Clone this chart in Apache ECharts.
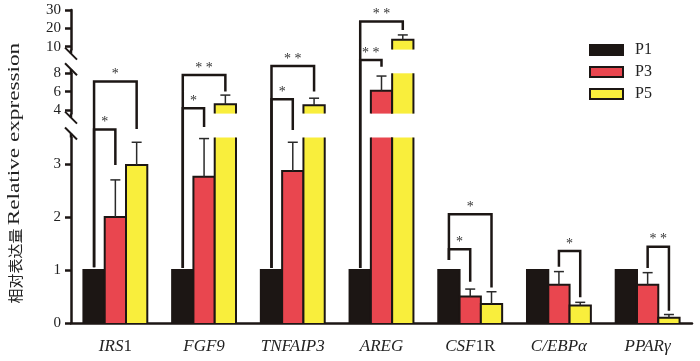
<!DOCTYPE html>
<html>
<head>
<meta charset="utf-8">
<script src="https://cdn.jsdelivr.net/npm/echarts@6.0.0/dist/echarts.min.js"></script>
<style>
html, body { margin: 0; padding: 0; background: #fff; }
#chart { width: 700px; height: 361px; }
</style>
</head>
<body>
<div id="chart"></div>
<script>
// data
var categories = ['IRS1', 'FGF9', 'TNFAIP3', 'AREG', 'CSF1R', 'C/EBPα', 'PPARγ'];
var seriesNames = ['P1', 'P3', 'P5'];
var p1 = [1, 1, 1, 1, 1, 1, 1];
var p3 = [2.0, 2.76, 2.87, 6.1, 0.5, 0.72, 0.72];
var p5 = [2.98, 4.62, 4.5, 13.8, 0.36, 0.33, 0.1];
var p1Err = [0, 0, 0, 0, 0, 0, 0];
var p3Err = [0.7, 0.72, 0.54, 1.6, 0.14, 0.25, 0.23];
var p5Err = [0.43, 1.0, 0.78, 2.6, 0.23, 0.06, 0.06];
// broken y axis: bottom, middle, top pieces
var segMin = [0, 3.6, 8.4];
var segMax = [3.5, 8, 30];
var segTicks = [[0, 1, 2, 3], [4, 6, 8], [10, 20, 30]];
// significance brackets: heights are [axis piece, value]
var brackets = [
    {cat: 0, from: 0, to: 2, top: [1, 7.1], left: [0, 1.05], right: [0, 3.66], label: '*'},
    {cat: 0, from: 0, to: 1, top: [0, 3.65], left: [0, 1.05], right: [0, 2.98], label: '*'},
    {cat: 1, from: 0, to: 2, top: [1, 7.82], left: [0, 1.04], right: [1, 6.0], label: '* *'},
    {cat: 1, from: 0, to: 1, top: [1, 4.19], left: [0, 1.04], right: [0, 3.7], label: '*'},
    {cat: 2, from: 0, to: 2, top: [1, 8.8], left: [0, 1.04], right: [1, 6.0], label: '* *'},
    {cat: 2, from: 0, to: 1, top: [1, 5.17], left: [0, 1.04], right: [0, 3.64], label: '*'},
    {cat: 3, from: 0, to: 2, top: [2, 23.7], left: [0, 1.04], right: [2, 19.1], label: '* *'},
    {cat: 3, from: 0, to: 1, top: [1, 9.45], left: [0, 1.04], right: [1, 8.72], label: '* *'},
    {cat: 4, from: 0, to: 2, top: [0, 2.05], left: [0, 1.19], right: [0, 0.67], label: '*'},
    {cat: 4, from: 0, to: 1, top: [0, 1.39], left: [0, 1.19], right: [0, 0.78], label: '*'},
    {cat: 5, from: 1, to: 2, top: [0, 1.36], left: [0, 1.06], right: [0, 0.485], label: '*'},
    {cat: 6, from: 1, to: 2, top: [0, 1.44], left: [0, 1.04], right: [0, 0.23], label: '* *'}
];

var values = [p1, p3, p5];
var errors = [p1Err, p3Err, p5Err];
var fills = ['#1c1614', '#e9464f', '#f9ee3c'];
var edge = '#1c1614';
var barRatio = 0.24;
var serif = 'Liberation Serif, Times New Roman, serif';

var chart = echarts.init(document.getElementById('chart'));

var gridPos = [
    {left: 71, right: 8, top: 137.5, bottom: 38},
    {left: 71, right: 8, top: 73.3, bottom: 247.4},
    {left: 71, right: 8, top: 10, bottom: 311.4}
];

var upright = {'IRS1': '{i|IRS}{n|1}', 'CSF1R': '{i|CSF}{n|1R}'};

var xAxes = [], yAxes = [], series = [];
gridPos.forEach(function (g, gi) {
    xAxes.push({
        type: 'category',
        gridIndex: gi,
        data: categories,
        show: gi === 0,
        axisLine: {lineStyle: {color: edge, width: 2.5}},
        axisTick: {alignWithLabel: true, length: 6, lineStyle: {color: edge, width: 2.5}},
        axisLabel: {
            interval: 0,
            margin: 15,
            formatter: function (v) { return upright[v] || '{i|' + v + '}'; },
            rich: {
                i: {fontFamily: serif, fontStyle: 'italic', fontSize: 17, color: '#222'},
                n: {fontFamily: serif, fontSize: 17, color: '#222'}
            }
        }
    });
    yAxes.push({
        type: 'value',
        gridIndex: gi,
        min: segMin[gi],
        max: segMax[gi],
        axisLine: {show: true, lineStyle: {color: edge, width: 2.5}},
        axisTick: {show: true, length: 6, customValues: segTicks[gi], lineStyle: {color: edge, width: 2.5}},
        axisLabel: {customValues: segTicks[gi], fontFamily: serif, fontSize: 15, color: '#222', margin: 10},
        splitLine: {show: false}
    });
});

var barItem = function (k) {
    return function (params, api) {
        var cat = api.value(0), v = api.value(1), e = api.value(2);
        var cs = params.coordSys;
        var band = api.size([1, 0])[0];
        var bw = band * barRatio;
        var top = api.coord([cat, v]);
        var cx = top[0] + (k - 1) * bw;
        var base = cs.y + cs.height;
        if (top[1] >= base) return null;
        var clipped = top[1] < cs.y;
        var yt = clipped ? cs.y : top[1];
        var x0 = cx - bw / 2, x1 = cx + bw / 2;
        var line = {stroke: edge, lineWidth: 2, fill: null};
        var kids = [{type: 'rect', shape: {x: x0, y: yt, width: bw, height: base - yt}, style: {fill: fills[k]}}];
        if (clipped) {
            kids.push({type: 'line', shape: {x1: x0, y1: yt, x2: x0, y2: base}, style: line});
            kids.push({type: 'line', shape: {x1: x1, y1: yt, x2: x1, y2: base}, style: line});
        } else {
            kids.push({type: 'polyline', shape: {points: [[x0, base], [x0, yt], [x1, yt], [x1, base]]}, style: line});
            if (e > 0) {
                var ye = api.coord([cat, v + e])[1];
                var es = {stroke: '#2a2a2a', lineWidth: 1.5};
                kids.push({type: 'line', shape: {x1: cx, y1: yt, x2: cx, y2: ye}, style: es});
                kids.push({type: 'line', shape: {x1: cx - 5, y1: ye, x2: cx + 5, y2: ye}, style: es});
            }
        }
        return {type: 'group', children: kids};
    };
};

gridPos.forEach(function (g, gi) {
    seriesNames.forEach(function (name, k) {
        series.push({
            type: 'custom',
            name: name,
            xAxisIndex: gi,
            yAxisIndex: gi,
            itemStyle: {color: fills[k]},
            renderItem: barItem(k),
            encode: {x: 0, y: 1},
            data: categories.map(function (c, i) { return [i, values[k][i], errors[k][i]]; })
        });
    });
});

chart.setOption({
    animation: false,
    grid: gridPos,
    xAxis: xAxes,
    yAxis: yAxes,
    legend: {
        orient: 'vertical',
        left: 589,
        top: 42,
        padding: 0,
        icon: 'rect',
        itemWidth: 33,
        itemHeight: 10,
        itemGap: 6,
        textStyle: {fontFamily: serif, fontSize: 16, color: '#222', padding: [0, 0, 0, 7]},
        data: seriesNames.map(function (n, k) {
            return {name: n, itemStyle: {color: fills[k], borderColor: edge, borderWidth: 2}};
        })
    },
    series: series
});

// brackets, axis breaks and axis title drawn on top
var band = chart.convertToPixel({xAxisIndex: 0}, 1) - chart.convertToPixel({xAxisIndex: 0}, 0);
var axisX = chart.convertToPixel({xAxisIndex: 0}, 0) - band / 2;
var yPix = function (ref) { return chart.convertToPixel({yAxisIndex: ref[0]}, ref[1]); };
var xPix = function (cat, s) { return chart.convertToPixel({xAxisIndex: 0}, cat) + (s - 1) * band * barRatio; };

var graphics = [];
brackets.forEach(function (b) {
    var xl = xPix(b.cat, b.from), xr = xPix(b.cat, b.to), yt = yPix(b.top);
    graphics.push({
        type: 'polyline',
        shape: {points: [[xl, yPix(b.left)], [xl, yt], [xr, yt], [xr, yPix(b.right)]]},
        style: {stroke: edge, lineWidth: 2.5, fill: null}
    });
    graphics.push({
        type: 'text',
        x: (xl + xr) / 2,
        y: yt - 7,
        style: {text: b.label, font: '14px ' + serif, fill: '#333', align: 'center', verticalAlign: 'middle'}
    });
});

// break marks: [axis piece, value at edge, direction of extension]
var breakEnds = [[0, segMax[0], -1], [1, segMin[1], 1], [1, segMax[1], -1], [2, segMin[2], 1]];
breakEnds.forEach(function (be) {
    var y0 = yPix([be[0], be[1]]);
    var cy = y0 + be[2] * 4;
    graphics.push({type: 'line', shape: {x1: axisX, y1: y0, x2: axisX, y2: cy}, style: {stroke: edge, lineWidth: 2.5}});
    graphics.push({type: 'line', shape: {x1: axisX - 6, y1: cy - 6, x2: axisX + 6, y2: cy + 6}, style: {stroke: edge, lineWidth: 2}});
});

// y axis title, in two parts
graphics.push({
    type: 'text',
    x: 15,
    y: 266,
    rotation: Math.PI / 2,
    style: {text: '相对表达量', font: '15px "Noto Sans CJK SC"', fill: '#222', align: 'center', verticalAlign: 'middle'}
});
graphics.push({
    type: 'text',
    x: 15,
    y: 134,
    rotation: Math.PI / 2,
    scaleX: 1.45,
    style: {text: 'Relative expression', font: '16px ' + serif, fill: '#222', align: 'center', verticalAlign: 'middle'}
});

chart.setOption({graphic: graphics});
</script>
</body>
</html>
